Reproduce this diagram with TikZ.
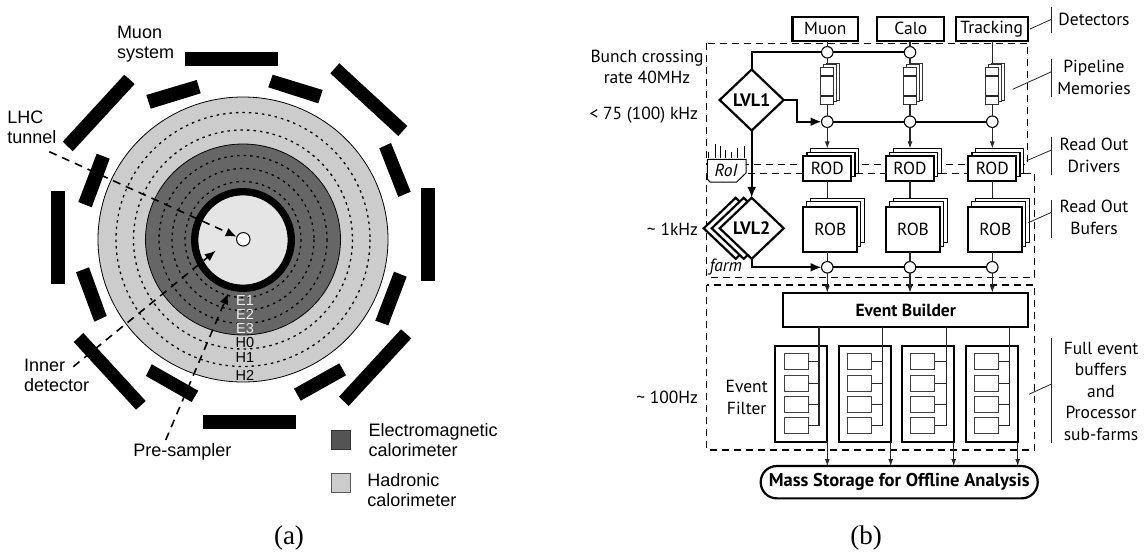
\documentclass[tikz,border=0pt]{standalone}
\usepackage{fontspec}
\setmainfont{Liberation Sans}
\newfontfamily\myriad{PT Sans}
\newfontfamily\capfont{Liberation Serif}
\usetikzlibrary{arrows.meta,positioning,calc,shapes.geometric}
\tikzset{
  label a/.style={inner sep=0pt, outer sep=0pt, align=left, font=\fontsize{18}{20}\selectfont},
  label b/.style={inner sep=0pt, outer sep=0pt, align=center, font=\myriad\fontsize{17.5}{21.5}\selectfont},
  tag/.style={inner sep=0pt, font=\fontsize{14.5}{15}\selectfont},
  leader/.style={dashed, dash pattern=on 8pt off 6pt, line width=1.6pt},
  bigtip/.style={-{Latex[length=11pt,width=9pt]}},
  smalltip/.style={-{Latex[length=7pt,width=5pt]}},
  region/.style={dash pattern=on 7pt off 5pt, line width=1.2pt},
  heavybox/.style={draw, line width=2.2pt, fill=white, inner sep=0pt, outer sep=0pt, font=\myriad\fontsize{17.5}{20}\selectfont},
  sheet/.style={draw, line width=1.1pt, fill=white, inner sep=0pt, outer sep=0pt},
  pipecell/.style={draw=black!80, line width=1pt, fill=white, inner sep=0pt, outer sep=0pt, minimum width=13pt, minimum height=37pt},
  decision/.style={diamond, aspect=1.05, draw, line width=2.2pt, fill=white, inner sep=0pt, outer sep=0pt, minimum width=64pt, minimum height=61pt, font=\myriad\bfseries\fontsize{18}{20}\selectfont},
  junction/.style={circle, draw, line width=1.1pt, fill=white, inner sep=0pt, outer sep=0pt, minimum size=11.5pt},
  thinlink/.style={line width=1.1pt, draw=black!85},
  boldlink/.style={line width=2.2pt},
  bracket/.style={line width=0.8pt, draw=black!85},
}
\begin{document}
\begin{tikzpicture}[x=1pt,y=-1pt]
  \useasboundingbox (0,0) rectangle (1144,554);

  % Calorimeter rings
  \draw[line width=0.8pt, fill=black!20] (243,239.5) ellipse (145 and 142.5);
  \draw[line width=0.8pt, fill=black!60] (243,239.5) ellipse (97.5 and 95.5);
  \foreach \r in {127,109.5,84,71,58}
    \draw[line width=1.3pt, dash pattern=on 2.5pt off 4pt] (243,239.5) circle (\r);
  \draw[line width=7.3pt, fill=black!10] (243,240) circle (48.3);
  \node[circle, draw, line width=1pt, fill=white, minimum size=13.5pt, inner sep=0pt, outer sep=0pt] (beam) at (243.3,239.3) {};

  % Muon system, outer bars
  \fill (185,52) -- (278,52) -- (278,66) -- (185,66) -- cycle;
  \fill (203,415) -- (296,415) -- (296,429) -- (203,429) -- cycle;
  \fill (50.7,191) -- (64.7,191) -- (64.7,284) -- (50.7,284) -- cycle;
  \fill (421,188) -- (435,188) -- (435,281) -- (421,281) -- cycle;
  \fill (124.3,74.7) -- (134.7,84) -- (72.7,151.3) -- (62.7,141.7) -- cycle;
  \fill (339.3,63.3) -- (407.3,126) -- (398.3,136) -- (330.3,73.3) -- cycle;
  \fill (83.3,333) -- (145.7,401) -- (136,409.7) -- (73.7,342) -- cycle;
  \fill (401,329.3) -- (411.3,338.3) -- (348.7,406) -- (339,396.7) -- cycle;

  % Muon system, inner bars
  \fill (196.7,80) -- (200.7,93.3) -- (150.7,108.7) -- (146.3,95) -- cycle;
  \fill (96.7,153.7) -- (109.7,158.7) -- (91.7,207.3) -- (78.3,202) -- cycle;
  \fill (272.7,74.7) -- (322.7,90) -- (318.3,103.3) -- (268.3,87.3) -- cycle;
  \fill (391,143) -- (410.7,191.7) -- (398.3,197) -- (379.3,148.3) -- cycle;
  \fill (394,271.7) -- (406.7,276.7) -- (388.3,325.3) -- (375.3,320.7) -- cycle;
  \fill (339.3,363.3) -- (346,375.3) -- (300.7,400.7) -- (294,388.7) -- cycle;
  \fill (151.7,364.3) -- (198.3,390.7) -- (191.7,402) -- (146,376) -- cycle;
  \fill (89,267.3) -- (106.7,316) -- (94.3,321.7) -- (76,272.3) -- cycle;

  % Layer tags
  \foreach \t/\y in {E1/300.7,E2/314,E3/328.3}
    \node[tag, text=black!7] (tag\t) at (245,\y) {\t};
  \foreach \t/\y in {H0/342.7,H1/357.3,H2/375.3}
    \node[tag] (tag\t) at (245,\y) {\t};

  % Leaders
  \coordinate (lhc start) at (49.3,151.7);
  \coordinate (lhc tip) at (236.7,236.7);
  \coordinate (inner start) at (73.3,366.7);
  \coordinate (inner tip) at (215.7,250.7);
  \coordinate (pre start) at (165.7,440);
  \coordinate (pre tip) at (228.3,293.3);
  \draw[leader, bigtip] (lhc start) -- (lhc tip);
  \draw[leader, bigtip] (inner start) -- (inner tip);
  \draw[leader, bigtip] (pre start) -- (pre tip);

  % Labels (a)
  \node[label a, anchor=west] (muonsys) at (117,44) {Muon\\system};
  \node[label a, anchor=west] (lhc) at (7.3,127) {LHC\\tunnel};
  \node[label a, anchor=west] (inner) at (24,375) {Inner\\detector};
  \node[label a, anchor=west] (presampler) at (133.3,452.3) {Pre-sampler};
  \node[draw=black!80, line width=1pt, fill=black!67, minimum size=19.3pt, inner sep=0pt, outer sep=0pt] (emkey) at (341.3,439.7) {};
  \node[draw=black!65, line width=1pt, fill=black!20, minimum size=19.3pt, inner sep=0pt, outer sep=0pt] (hadkey) at (341.3,483) {};
  \node[label a, anchor=west] (emtext) at (368.7,440) {Electromagnetic\\calorimeter};
  \node[label a, anchor=west] (hadtext) at (367.3,490.3) {Hadronic\\calorimeter};
  \node[inner sep=0pt, font=\capfont\fontsize{27}{30}\selectfont] (capa) at (289,538) {(a)};

  % Dashed regions
  \draw[region] (706.7,43.3) rectangle (1027.7,164.3);
  \draw[region] (706.7,173.3) rectangle (1034.7,277.3);
  \draw[region] (706.7,285) rectangle (1034.7,450);

  % Detectors
  \node[heavybox, minimum width=65.5pt, minimum height=24pt] (muon) at (825.3,28.7) {Muon};
  \node[heavybox, minimum width=67pt, minimum height=24pt] (calo) at (910.8,28.7) {Calo};
  \node[heavybox, minimum width=72pt, minimum height=24pt] (track) at (991.7,28.7) {Tracking};

  % Columns: pipeline, ROD, ROB and the junctions
  \foreach \name/\col in {muon/827.3,calo/910,track/992.3} {
    \node[pipecell] (pipeback\name) at (\col+6,81.5) {};
    \node[pipecell] at (\col+3,83) {};
    \node[pipecell] (pipe\name) at (\col,85.5) {};
    \draw[thinlink] ([yshift=-9pt]pipe\name.north west) -- ([yshift=-9pt]pipe\name.north east);
    \draw[thinlink] ([yshift=8pt]pipe\name.south west) -- ([yshift=8pt]pipe\name.south east);
    \node[junction] (lower\name) at (\col,121.7) {};
    \node[sheet, minimum width=48pt, minimum height=24.7pt] (rodback\name) at (\col+7.5,160.8) {};
    \node[sheet, minimum width=48pt, minimum height=24.7pt] at (\col+3.7,164.5) {};
    \node[heavybox, minimum width=48pt, minimum height=24.7pt] (rod\name) at (\col,168.3) {ROD};
    \node[sheet, minimum width=54pt, minimum height=44.4pt] (robback\name) at (\col+10.3,220.5) {};
    \node[sheet, minimum width=54pt, minimum height=44.4pt] at (\col+6.6,224) {};
    \node[heavybox, minimum width=54pt, minimum height=44.4pt] (rob\name) at (\col+3,229.5) {ROB};
    \node[junction] (out\name) at (\col,267.3) {};
    \draw[thinlink] (rod\name.south) -- (rod\name.south |- robback\name.north);
    \draw[thinlink, smalltip] (lower\name) -- (lower\name |- rodback\name.north);
    \draw[thinlink] (out\name |- rob\name.south) -- (out\name);
  }

  % Junctions of the first row
  \node[junction] (uppermuon) at (827.3,52.3) {};
  \node[junction] (uppercalo) at (910,52.3) {};

  % Trigger levels
  \node[decision] (lvl1) at (751.7,100) {LVL1};
  \node[decision] (farmc) at (735.7,228.3) {};
  \node[decision] (farmb) at (743.7,228.3) {};
  \node[decision] (lvl2) at (751.7,228.3) {LVL2};

  % RoI
  \foreach \x/\y in {708.3/152,715/144,720/146,725.7/150,731.7/152,737.3/148,744/146}
    \draw[line width=0.7pt] (\x,\y) -- (\x,158);
  \draw[line width=1pt, fill=white] (707.3,159.3) -- (746,159.3) -- (746,173) -- (736.7,182) -- (710,182) -- (707.3,179) -- cycle;
  \node[inner sep=0pt, font=\myriad\itshape\fontsize{17.5}{20}\selectfont] (roi) at (726,170.5) {RoI};
  \node[anchor=west, inner sep=0pt, font=\myriad\itshape\fontsize{17.5}{20}\selectfont] (farmtext) at (709.3,267) {farm};

  % Trigger links
  \draw[thinlink] (muon.south -| uppermuon) -- (uppermuon);
  \draw[thinlink] (calo.south -| uppercalo) -- (uppercalo);
  \draw[thinlink] (uppermuon) -- (uppermuon |- pipebackmuon.north);
  \draw[thinlink] (uppercalo) -- (uppercalo |- pipebackcalo.north);
  \draw[thinlink] (track.south -| pipetrack) -- (pipetrack |- pipebacktrack.north);
  \draw[thinlink] (pipemuon.south) -- (lowermuon);
  \draw[thinlink] (pipecalo.south) -- (lowercalo);
  \draw[thinlink] (pipetrack.south) -- (lowertrack);
  \draw[boldlink] (lvl1.north) |- (uppermuon);
  \draw[boldlink] (uppermuon) -- (uppercalo);
  \draw[boldlink, bigtip] (lvl1.east) -- ++(13.3,0) |- (lowermuon);
  \draw[boldlink] (lowermuon) -- (lowercalo);
  \draw[boldlink] (lowercalo) -- (lowertrack);
  \draw[boldlink, bigtip] (lvl1.south) -- (lvl2.north);
  \draw[boldlink, bigtip] (lvl2.south) |- (outmuon);
  \draw[boldlink] (outmuon) -- (outcalo);
  \draw[boldlink] (outcalo) -- (outtrack);

  % Event builder and filter
  \node[heavybox, minimum width=245pt, minimum height=34.6pt, font=\myriad\bfseries\fontsize{17.5}{20}\selectfont] (builder) at (905.8,310) {Event Builder};
  \node[heavybox, rounded corners=16pt, minimum width=277pt, minimum height=32.3pt, font=\myriad\bfseries\fontsize{18.5}{20}\selectfont] (storage) at (899.2,482.2) {Mass Storage for Offline Analysis};
  \foreach \name in {muon,calo,track}
    \draw[thinlink, smalltip] (out\name) -- (out\name |- builder.north);
  \foreach \i/\xl/\bus in {1/775.3/819,2/838.7/882.7,3/901.7/946.7,4/965.7/1009.3} {
    \node[heavybox, anchor=north west, minimum width=52pt, minimum height=95.7pt] (farm\i) at (\xl,346) {};
    \foreach \j/\y in {1/361.5,2/383.8,3/404.8,4/425.5} {
      \node[draw=black!75, line width=1pt, fill=white, inner sep=0pt, outer sep=0pt, minimum width=24pt, minimum height=16.3pt] (cell\i\j) at (\xl+21,\y) {};
      \draw[thinlink] (cell\i\j.east) -- (\bus,\y);
    }
    \coordinate (bus\i) at (\bus,426);
    \draw[thinlink] (bus\i |- builder.south) -- (bus\i);
    \draw[thinlink, smalltip] (farm\i.south east) -- (farm\i.south east |- storage.north);
  }

  % Labels (b)
  \node[label b] (bunch) at (647,67) {Bunch crossing\\rate 40MHz};
  \node[label b, anchor=east] (lvl1rate) at (698,115) {< 75 (100) kHz};
  \node[label b, anchor=east] (lvl2rate) at (698,229.3) {\textasciitilde{} 1kHz};
  \node[label b, anchor=east] (efrate) at (698,397) {\textasciitilde{} 100Hz};
  \node[label b] (eftext) at (746.7,397.5) {Event\\Filter};
  \node[inner sep=0pt, font=\capfont\fontsize{27}{30}\selectfont] (capb) at (866,538) {(b)};

  % Brackets
  \node[label b] (detectors) at (1094,19) {Detectors};
  \node[label b] (pipeline) at (1094,77.5) {Pipeline\\Memories};
  \node[label b] (drivers) at (1094,155.5) {Read Out\\Drivers};
  \node[label b] (bufers) at (1094,217.5) {Read Out\\Bufers};
  \node[label b] (fullevent) at (1101,391) {Full event\\buffers\\and\\Processor\\sub-farms};
  \foreach \top/\bot/\mid/\x/\y in {7.3/33.3/19.3/1030/29,59.3/97.3/71.7/1012.7/89.3,136.7/175/150/1026.7/160.7,200/238.3/212.3/1028.3/222.7,338.3/443.3/384/1029/394.3} {
    \draw[bracket] (1051.5,\top) -- (1051.5,\bot);
    \draw[bracket] (1051.5,\mid) -- (\x,\y);
  }
\end{tikzpicture}
\end{document}
